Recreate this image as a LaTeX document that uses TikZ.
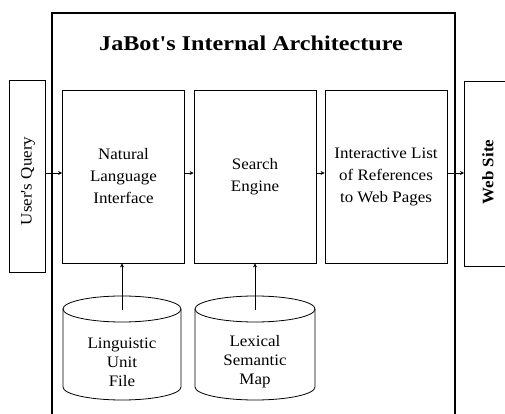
\documentclass[tikz,border=0pt]{standalone}
\usepackage{fontspec}
\setmainfont{Liberation Serif}
\newfontfamily\titlefont[FakeStretch=1.15]{Liberation Serif}
\newfontfamily\bodyfont[FakeStretch=1.06]{Liberation Serif}
\usetikzlibrary{arrows.meta}
\begin{document}
\begin{tikzpicture}[x=1pt,y=1pt,
  thin line/.style={line width=0.8pt},
  procbox/.style={draw,thin line,minimum width=122pt,minimum height=173pt,inner sep=0pt,
     align=center,font=\bodyfont\fontsize{16}{22}\selectfont},
  sidetext/.style={rotate=90,font=\bodyfont\fontsize{16}{20}\selectfont},
  cyltext/.style={align=center,font=\bodyfont\fontsize{16}{19}\selectfont},
  arr/.style={thin line,-{Stealth[length=4pt,width=4pt]}}]
\useasboundingbox (0,0) rectangle (505,414);
% outer frame (open at bottom)
\draw[line width=1.6pt] (52,-2) -- (52,401) -- (455,401) -- (455,-2);
\node[anchor=base,font=\titlefont\bfseries\fontsize{21}{24}\selectfont] (title) at (251,363) {JaBot's Internal Architecture};
% side boxes
\node[draw,thin line,minimum width=36pt,minimum height=192pt,inner sep=0pt] (uq) at (27,238) {};
\node[sidetext] (uqt) at (28,233) {User's Query};
\draw[thin line] (506,333) -- (464,333) -- (464,148) -- (506,148);
\coordinate (ws) at (464,241);
\node[sidetext,font=\bodyfont\bfseries\fontsize{16}{20}\selectfont] (wst) at (488,242) {Web Site};
% process boxes
\node[procbox] (nli) at (123.5,237.5) {Natural\\Language\\Interface};
\node[procbox] (se) at (255,237.5) {Search\\Engine};
\node[procbox] (il) at (386,237.5) {Interactive List\\of References\\to Web Pages};
% arrows
\coordinate (ay) at (0,241);
\draw[arr] (uq.east |- ay) -- (nli.west |- ay);
\draw[arr] (nli.east |- ay) -- (se.west |- ay);
\draw[arr] (se.east |- ay) -- (il.west |- ay);
\draw[arr] (il.east |- ay) -- (ws);
% cylinders
\draw[thin line] (63,105) -- (63,27) arc (180:360:59 and 13) -- (181,105);
\draw[thin line] (122,105) ellipse (59 and 13);
\draw[thin line] (195,105) -- (195,27) arc (180:360:60 and 13) -- (315,105);
\draw[thin line] (255,105) ellipse (60 and 13);
\coordinate (c1) at (122,104);
\coordinate (c2) at (255,104);
\node[cyltext] (luf) at (122,52) {Linguistic\\Unit\\File};
\node[cyltext] (lsm) at (255,52) {Lexical\\Semantic\\Map};
\draw[arr] (c1) -- (c1 |- nli.south);
\draw[arr] (c2) -- (c2 |- se.south);
\end{tikzpicture}
\end{document}
